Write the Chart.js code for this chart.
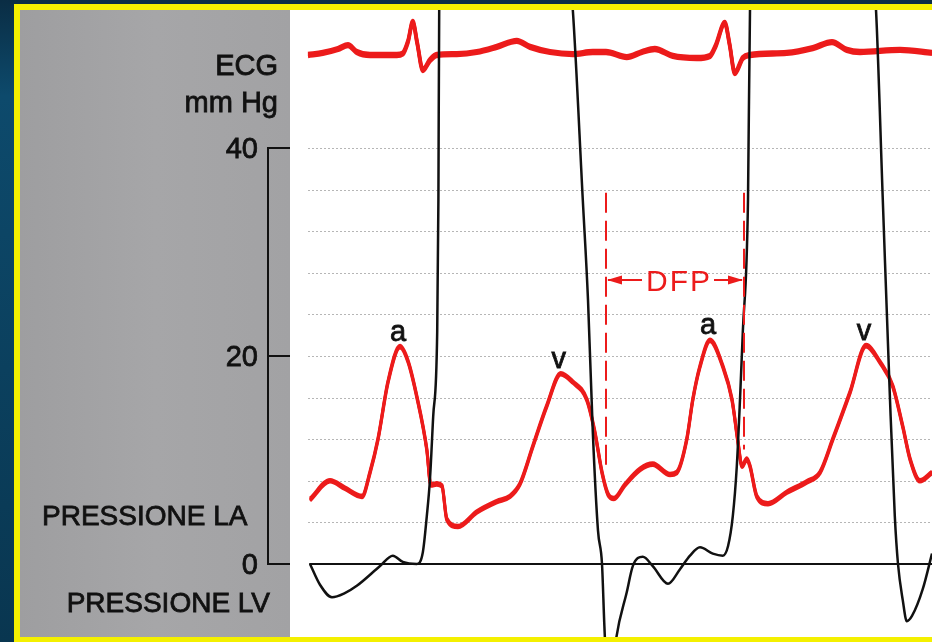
<!DOCTYPE html>
<html>
<head>
<meta charset="utf-8">
<title>ECG e pressioni LA / LV</title>
<script src="https://cdn.jsdelivr.net/npm/chart.js@4.4.4/dist/chart.umd.min.js"></script>
<style>
  html, body { margin: 0; padding: 0; background: #0b3a57; }
  #wrap { width: 932px; height: 642px; }
</style>
</head>
<body>
<div id="wrap"><canvas id="chart" width="932" height="642"></canvas></div>
<script>
// time in ms, pressures in mmHg, ECG in mV
const ECG_T = [45, 82, 120, 145, 167, 200, 267, 282, 295, 307, 318, 332, 350, 367, 417, 467, 517, 567, 600, 650, 707, 757, 790, 842, 880, 912, 957, 1017, 1050, 1064, 1087, 1099, 1112, 1132, 1150, 1242, 1307, 1355, 1392, 1425, 1525, 1605];
const ECG_MV = [0, 0.07, 0.2, 0.33, 0.1, 0, 0, 0.05, 0.45, 1.1, 0.4, -0.5, -0.17, 0, 0.03, 0.1, 0.27, 0.47, 0.27, 0.1, 0.03, 0.1, 0.1, -0.07, 0.1, 0.2, -0.03, -0.1, -0.03, 0.3, 1.07, 0.35, -0.6, -0.1, 0, 0.07, 0.23, 0.43, 0.17, 0.1, 0.17, 0.07];

const LA_T = [50, 100, 137, 180, 200, 220, 245, 275, 295, 317, 342, 352, 367, 380, 392, 420, 467, 517, 550, 575, 607, 642, 677, 707, 742, 762, 780, 795, 810, 837, 875, 907, 950, 967, 992, 1007, 1025, 1050, 1082, 1105, 1120, 1130, 1142, 1150, 1167, 1195, 1242, 1292, 1325, 1357, 1400, 1440, 1475, 1507, 1532, 1550, 1575, 1605];
const LA_MMHG = [6.2, 8.0, 7.3, 6.5, 8.8, 12.0, 17.5, 20.9, 19.5, 16.1, 11.0, 7.6, 7.7, 7.5, 4.3, 3.6, 5.0, 6.0, 6.5, 7.7, 11.3, 15.2, 18.3, 17.5, 15.8, 12.7, 8.8, 6.7, 6.3, 7.6, 9.1, 9.6, 8.6, 8.8, 12.0, 15.8, 19.0, 21.5, 19.0, 15.8, 11.7, 9.4, 10.1, 9.4, 6.5, 5.8, 6.9, 7.9, 8.8, 12.0, 16.5, 21.0, 19.4, 17.1, 13.2, 10.1, 8.0, 8.8];

const LV_T = [50, 75, 105, 137, 167, 225, 257, 282, 317, 332, 342, 350, 358, 368, 371, 373, 537, 707, 732, 745, 757, 770, 780, 786, 797, 815, 842, 857, 882, 907, 945, 975, 1000, 1025, 1057, 1082, 1095, 1107, 1117, 1125, 1132, 1145, 1150, 1312, 1465, 1482, 1500, 1512, 1520, 1532, 1542, 1555, 1582, 1605];
const LV_MMHG = [0, -2.0, -3.2, -2.8, -2.1, -0.2, 0.8, 0.2, 0, 1.1, 4.6, 8.2, 14.2, 22.3, 35, 53.3, 120, 53.3, 35, 25.4, 12.7, 3.2, 0, -6, -14, -7.3, -2.7, -0.2, 0.7, -0.2, -1.9, -0.5, 0.8, 1.6, 1.0, 0.8, 1.7, 4.6, 9.4, 15.8, 22.3, 35, 53.3, 120, 53.3, 35, 15.8, 4.6, 0, -3.5, -5.5, -5.0, -2.4, 1.0];

const BASE_T = [48, 1605];
const BASE_MMHG = [0, 0];

const Y_TICKS = [40, 20, 0];
const GRID_MMHG = [4, 8, 12, 16, 20, 24, 28, 32, 36, 40];

const WAVE_LABELS = ['a', 'v', 'a', 'v'];
const WAVE_T = [275, 677, 1050, 1440];

const DFP_START = 790;
const DFP_END = 1135;

const RED = '#ec1b1b';
const INK = '#111111';
const FONT = '"Liberation Sans", Arial, Helvetica, sans-serif';

const toPoints = (ts, vs) => ts.map((t, i) => ({ x: t, y: vs[i] }));

// printed text looks heavy on the scan: fill plus a thin stroke
function inkText(ctx, text, x, y) {
  ctx.fillText(text, x, y);
  ctx.strokeText(text, x, y);
}

// page background, yellow frame, grey label panel, white trace paper
const paperPlugin = {
  id: 'paper',
  beforeDraw(chart) {
    const { ctx, chartArea: a, width: W, height: H } = chart;
    ctx.save();
    const g = ctx.createLinearGradient(0, 0, 0, H);
    g.addColorStop(0, '#0a2d44');
    g.addColorStop(0.15, '#0d4a6c');
    g.addColorStop(1, '#093650');
    ctx.fillStyle = g;
    ctx.fillRect(0, 0, W, H);
    ctx.fillStyle = '#f4f000';
    ctx.fillRect(14, 4, W - 14, H - 4);
    const gp = ctx.createLinearGradient(20, 0, a.left, 0);
    gp.addColorStop(0, '#9e9ea0');
    gp.addColorStop(0.5, '#a6a6a8');
    gp.addColorStop(1, '#a2a2a4');
    ctx.fillStyle = gp;
    ctx.fillRect(20, a.top, a.left - 20, a.bottom - a.top);
    ctx.fillStyle = '#ffffff';
    ctx.fillRect(a.left, a.top, a.right - a.left, a.bottom - a.top);
    ctx.restore();
  },
  beforeDatasetsDraw(chart) {
    const { ctx, chartArea: a, scales: { x, y } } = chart;
    ctx.save();
    ctx.strokeStyle = 'rgba(110,110,110,0.5)';
    ctx.lineWidth = 1;
    ctx.setLineDash([2, 2]);
    GRID_MMHG.forEach(v => {
      const py = Math.round(y.getPixelForValue(v)) + 0.5;
      ctx.beginPath();
      ctx.moveTo(x.getPixelForValue(45), py);
      ctx.lineTo(a.right, py);
      ctx.stroke();
    });
    ctx.restore();
  }
};

// pen traces are thick vertically: redraw the line shifted up and down
const penPlugin = {
  id: 'pen',
  afterDatasetDraw(chart, args) {
    const ds = chart.data.datasets[args.index];
    if (!ds.penOffset) return;
    const { ctx, chartArea: a } = chart;
    ctx.save();
    ctx.beginPath();
    ctx.rect(a.left, a.top, a.right - a.left, a.bottom - a.top);
    ctx.clip();
    [-ds.penOffset, ds.penOffset].forEach(dy => {
      ctx.save();
      ctx.translate(0, dy);
      args.meta.controller.draw();
      ctx.restore();
    });
    ctx.restore();
  }
};

const labelsPlugin = {
  id: 'labels',
  afterDraw(chart) {
    const { ctx, chartArea: a, scales: { x, y } } = chart;
    ctx.save();

    // mmHg scale in the grey panel
    const axisX = 268;
    ctx.strokeStyle = INK;
    ctx.lineWidth = 2;
    ctx.beginPath();
    ctx.moveTo(axisX, y.getPixelForValue(40));
    ctx.lineTo(axisX, y.getPixelForValue(0));
    ctx.stroke();

    ctx.fillStyle = INK;
    ctx.textAlign = 'right';
    ctx.textBaseline = 'alphabetic';
    ctx.font = '29px ' + FONT;
    Y_TICKS.forEach(v => {
      const py = y.getPixelForValue(v);
      ctx.lineWidth = 2;
      ctx.beginPath();
      ctx.moveTo(axisX - 1, py);
      ctx.lineTo(a.left, py);
      ctx.stroke();
      ctx.lineWidth = 0.8;
      inkText(ctx, String(v), 258, py + 10);
    });

    ctx.lineWidth = 0.8;
    inkText(ctx, 'ECG', 278, 75);
    inkText(ctx, 'mm Hg', 278, 112);
    ctx.font = '28px ' + FONT;
    inkText(ctx, 'PRESSIONE LV', 270, 612);
    ctx.textAlign = 'left';
    inkText(ctx, 'PRESSIONE LA', 42, 525);

    // a / v waves
    ctx.textAlign = 'center';
    ctx.font = '29px ' + FONT;
    WAVE_T.forEach((t, i) => {
      const v = LA_MMHG[LA_T.indexOf(t)];
      inkText(ctx, WAVE_LABELS[i], x.getPixelForValue(t) - 2, y.getPixelForValue(v) - 6);
    });

    // DFP interval
    const xL = x.getPixelForValue(DFP_START);
    const xR = x.getPixelForValue(DFP_END);
    ctx.strokeStyle = RED;
    ctx.fillStyle = RED;
    ctx.lineWidth = 2;
    ctx.setLineDash([20, 8]);
    ctx.beginPath();
    ctx.moveTo(xL, y.getPixelForValue(35.7));
    ctx.lineTo(xL, y.getPixelForValue(8.8));
    ctx.moveTo(xR, y.getPixelForValue(35.7));
    ctx.lineTo(xR, y.getPixelForValue(11));
    ctx.stroke();
    ctx.setLineDash([]);

    const ay = y.getPixelForValue(27.3);
    ctx.font = '30px ' + FONT;
    ctx.letterSpacing = '2px';
    const label = 'DFP';
    const tw = ctx.measureText(label).width;
    const cx = (xL + xR) / 2 + 3;
    ctx.textAlign = 'center';
    ctx.fillText(label, cx + 1, ay + 11);
    ctx.letterSpacing = '0px';
    ctx.beginPath();
    ctx.moveTo(xL + 2, ay);
    ctx.lineTo(cx - tw / 2 - 3, ay);
    ctx.moveTo(cx + tw / 2 + 3, ay);
    ctx.lineTo(xR - 2, ay);
    ctx.stroke();
    const head = (tip, dir) => {
      ctx.beginPath();
      ctx.moveTo(tip, ay);
      ctx.lineTo(tip + dir * 15, ay - 4.5);
      ctx.lineTo(tip + dir * 15, ay + 4.5);
      ctx.closePath();
      ctx.fill();
    };
    head(xL + 1, 1);
    head(xR - 1, -1);

    ctx.restore();
  }
};

new Chart(document.getElementById('chart'), {
  type: 'line',
  data: {
    datasets: [
      {
        label: 'Pressione LV',
        data: toPoints(LV_T, LV_MMHG),
        borderColor: INK,
        borderWidth: 2.5,
        cubicInterpolationMode: 'monotone',
        clip: 0,
        yAxisID: 'y',
      },
      {
        label: 'Pressione LA',
        data: toPoints(LA_T, LA_MMHG),
        borderColor: RED,
        borderWidth: 3,
        cubicInterpolationMode: 'monotone',
        clip: 0,
        penOffset: 1.3,
        yAxisID: 'y',
      },
      {
        label: 'ECG',
        data: toPoints(ECG_T, ECG_MV),
        borderColor: RED,
        borderWidth: 3.5,
        cubicInterpolationMode: 'monotone',
        clip: 0,
        penOffset: 1.4,
        yAxisID: 'yEcg',
      },
      {
        label: 'zero',
        data: toPoints(BASE_T, BASE_MMHG),
        borderColor: INK,
        borderWidth: 2,
        clip: 0,
        yAxisID: 'y',
      },
    ],
  },
  options: {
    responsive: false,
    animation: false,
    layout: { padding: { left: 290, top: 10, right: 0, bottom: 5 } },
    elements: { point: { radius: 0, hoverRadius: 0 } },
    plugins: { legend: { display: false }, tooltip: { enabled: false } },
    events: [],
    scales: {
      x: { type: 'linear', min: 0, max: 1605, display: false },
      y: { min: -7.02, max: 53.27, display: false },
      yEcg: { min: -19.4, max: 1.5, display: false },
    },
  },
  plugins: [paperPlugin, penPlugin, labelsPlugin],
});
</script>
</body>
</html>
